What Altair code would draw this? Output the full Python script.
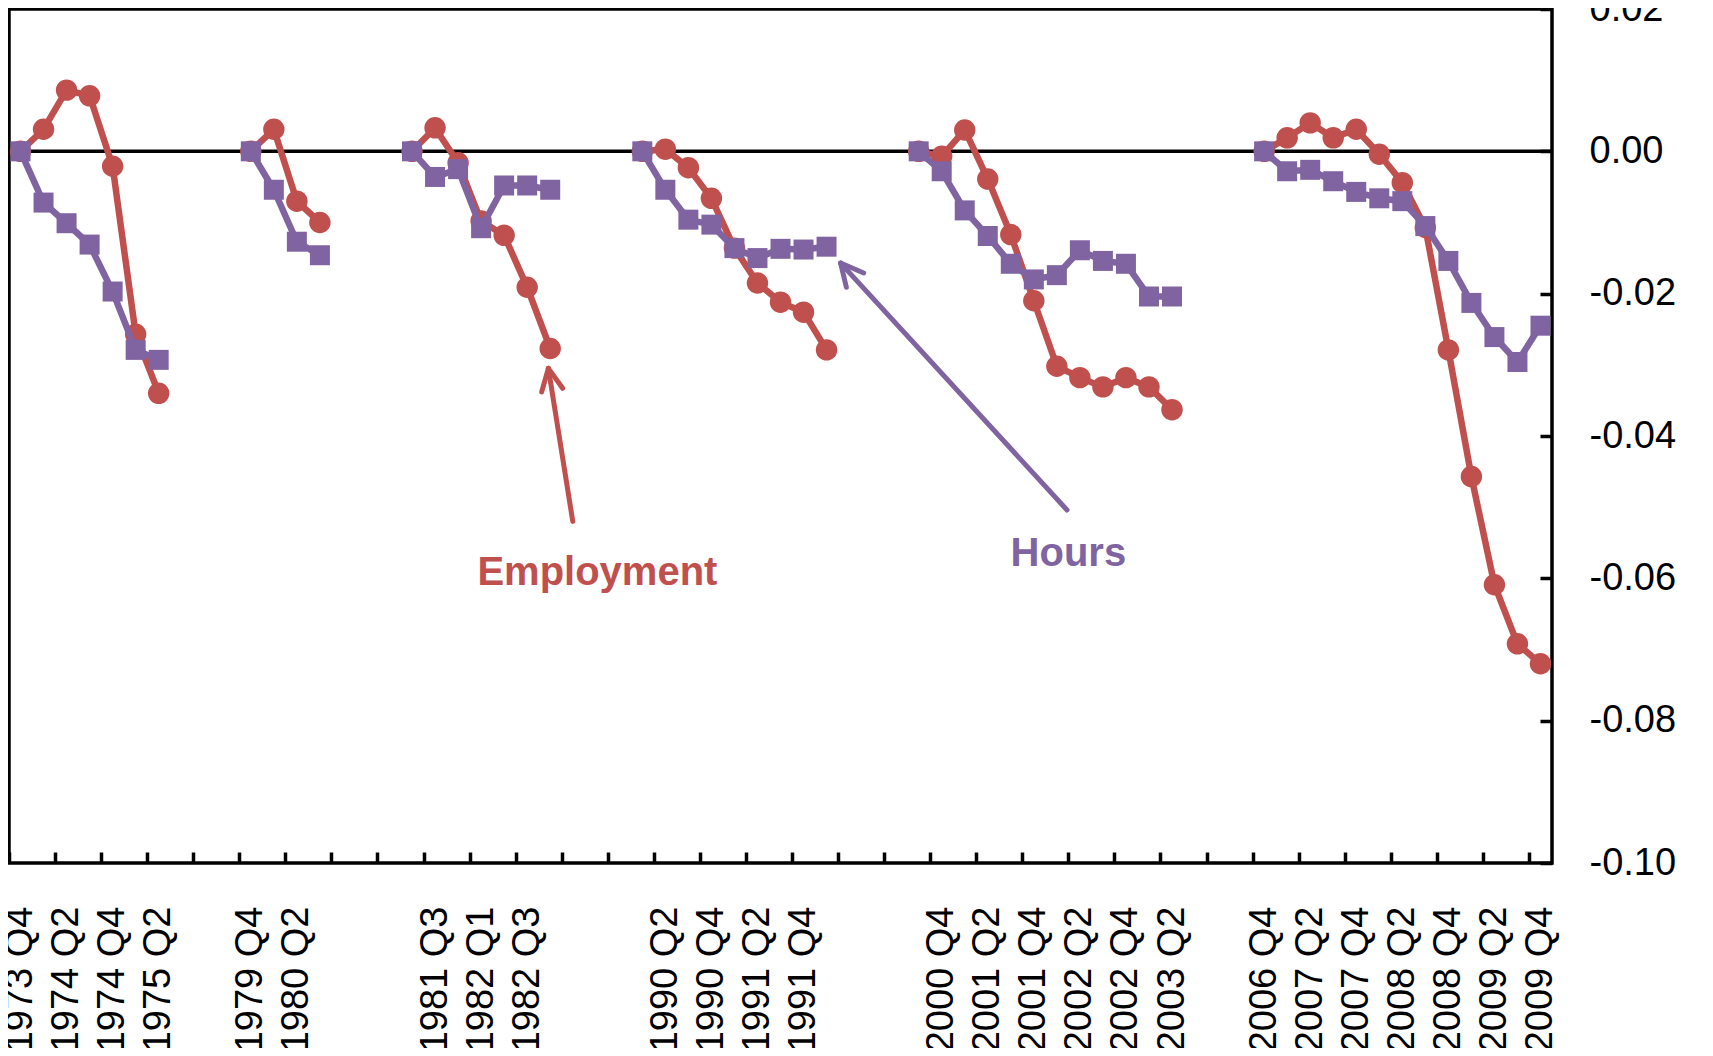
import altair as alt
import pandas as pd

RED = "#C0504D"
PURPLE = "#8064A2"
FONT = "Liberation Sans"

# ---- data: quarters, employment and hours (change since peak) per episode ----
q_1973 = ["1973 Q4", "1974 Q1", "1974 Q2", "1974 Q3", "1974 Q4", "1975 Q1", "1975 Q2"]
emp_1973 = [0.0, 0.0031, 0.0086, 0.0078, -0.0021, -0.0257, -0.0340]
hrs_1973 = [0.0, -0.0072, -0.0101, -0.0131, -0.0197, -0.0279, -0.0293]

q_1980 = ["1979 Q4", "1980 Q1", "1980 Q2", "1980 Q3"]
emp_1980 = [0.0, 0.0031, -0.0070, -0.0100]
hrs_1980 = [0.0, -0.0054, -0.0127, -0.0146]

q_1981 = ["1981 Q2", "1981 Q3", "1981 Q4", "1982 Q1", "1982 Q2", "1982 Q3", "1982 Q4"]
emp_1981 = [0.0, 0.0033, -0.0016, -0.0098, -0.0118, -0.0191, -0.0277]
hrs_1981 = [0.0, -0.0036, -0.0025, -0.0108, -0.0048, -0.0048, -0.0054]

q_1990 = ["1990 Q1", "1990 Q2", "1990 Q3", "1990 Q4", "1991 Q1", "1991 Q2",
          "1991 Q3", "1991 Q4", "1992 Q1"]
emp_1990 = [0.0, 0.0003, -0.0023, -0.0066, -0.0136, -0.0185, -0.0212, -0.0226, -0.0279]
hrs_1990 = [0.0, -0.0054, -0.0096, -0.0103, -0.0136, -0.0150, -0.0137, -0.0138, -0.0134]

q_2000 = ["2000 Q3", "2000 Q4", "2001 Q1", "2001 Q2", "2001 Q3", "2001 Q4",
          "2002 Q1", "2002 Q2", "2002 Q3", "2002 Q4", "2003 Q1", "2003 Q2"]
emp_2000 = [0.0, -0.0007, 0.0030, -0.0039, -0.0117, -0.0210, -0.0302, -0.0318,
            -0.0331, -0.0318, -0.0331, -0.0363]
hrs_2000 = [0.0, -0.0028, -0.0083, -0.0119, -0.0158, -0.0180, -0.0174, -0.0139,
            -0.0154, -0.0158, -0.0204, -0.0204]

q_2006 = ["2006 Q4", "2007 Q1", "2007 Q2", "2007 Q3", "2007 Q4", "2008 Q1", "2008 Q2",
          "2008 Q3", "2008 Q4", "2009 Q1", "2009 Q2", "2009 Q3", "2009 Q4"]
emp_2006 = [0.0, 0.0019, 0.0040, 0.0019, 0.0031, -0.0004, -0.0044, -0.0107,
            -0.0279, -0.0457, -0.0609, -0.0692, -0.0720]
hrs_2006 = [0.0, -0.0028, -0.0026, -0.0042, -0.0057, -0.0066, -0.0070, -0.0105,
            -0.0154, -0.0213, -0.0261, -0.0296, -0.0245]

GAP = 3  # blank quarters between episodes

y_ticks = [-0.10, -0.08, -0.06, -0.04, -0.02, 0.00, 0.02]

ann_text = ["Employment", "Hours"]
ann_idx = [25.05, 45.5]
ann_val = [-0.0610, -0.0582]
ann_col = [RED, PURPLE]

# arrows: (x1, y1, x2, y2) in category index / value units
arrow_x1 = [23.98, 22.92, 22.92, 45.44, 35.61, 35.61]
arrow_y1 = [-0.0520, -0.0305, -0.0305, -0.0504, -0.0157, -0.0157]
arrow_x2 = [22.92, 22.63, 23.54, 35.61, 35.86, 36.61]
arrow_y2 = [-0.0305, -0.0338, -0.0333, -0.0157, -0.0191, -0.0171]
arrow_col = [RED, RED, RED, PURPLE, PURPLE, PURPLE]

# ---- build tables ----
episodes = [(q_1973, emp_1973, hrs_1973), (q_1980, emp_1980, hrs_1980),
            (q_1981, emp_1981, hrs_1981), (q_1990, emp_1990, hrs_1990),
            (q_2000, emp_2000, hrs_2000), (q_2006, emp_2006, hrs_2006)]

rows = []
labels = []
i = 0
for n, (qs, emp, hrs) in enumerate(episodes):
    if n > 0:
        labels += [""] * GAP
        i += GAP
    for q, e, h in zip(qs, emp, hrs):
        rows.append({"idx": i, "val": e, "series": "Employment", "ep": n})
        rows.append({"idx": i, "val": h, "series": "Hours", "ep": n})
        labels.append(q)
        i += 1
N = len(labels)
df = pd.DataFrame(rows)
emp_df = df[df.series == "Employment"]
hrs_df = df[df.series == "Hours"]

shown = [labels[k] if k % 2 == 0 else "" for k in range(N)]
label_expr = "[" + ",".join("'" + s + "'" for s in shown) + "][datum.value + 0.5]"
tick_vals = [k - 0.5 for k in range(0, N, 2)]

W, H = 1543, 854
half_band = W / N / 2

xaxis = alt.Axis(orient="bottom", values=tick_vals, labelExpr=label_expr,
                 labelAngle=270, labelAlign="right", labelBaseline="middle",
                 labelOffset=half_band, labelPadding=43, labelFontSize=38,
                 labelFont=FONT, labelColor="black", labelOverlap=False,
                 labelFlush=False, ticks=True, tickSize=11, tickWidth=3.5,
                 tickColor="black", offset=-11, domain=False, grid=False, title=None)
yaxis = alt.Axis(orient="right", values=y_ticks,
                 labelExpr="replace(format(datum.value, '.2f'), '\u2212', '-')",
                 labelAlign="left", labelBaseline="middle", labelPadding=37,
                 labelFontSize=38, labelFont=FONT, labelColor="black",
                 ticks=True, tickSize=12, tickWidth=3.5, tickColor="black",
                 offset=-12, domain=False, grid=False, title=None)

xs = alt.Scale(domain=[-0.5, N - 0.5], nice=False, zero=False)
ys = alt.Scale(domain=[-0.10, 0.02], nice=False, zero=False)
X = alt.X("idx:Q", scale=xs, axis=xaxis)
Y = alt.Y("val:Q", scale=ys, axis=yaxis)

zero = alt.Chart(pd.DataFrame({"val": [0.0]})).mark_rule(
    color="black", strokeWidth=3.5).encode(y=Y)

line_e = alt.Chart(emp_df).mark_line(color=RED, strokeWidth=6.5).encode(
    x=X, y=Y, detail="ep:N", order="idx:Q")
pts_e = alt.Chart(emp_df).mark_point(shape="circle", filled=True, size=460,
                                     color=RED, opacity=1).encode(x=X, y=Y)
line_h = alt.Chart(hrs_df).mark_line(color=PURPLE, strokeWidth=6.5).encode(
    x=X, y=Y, detail="ep:N", order="idx:Q")
pts_h = alt.Chart(hrs_df).mark_point(shape="square", filled=True, size=400,
                                     color=PURPLE, opacity=1).encode(x=X, y=Y)

arr_df = pd.DataFrame({"idx": arrow_x1, "val": arrow_y1, "idx2": arrow_x2,
                       "val2": arrow_y2, "col": arrow_col})
arrows = alt.Chart(arr_df).mark_rule(strokeWidth=5, strokeCap="round").encode(
    x=X, y=Y, x2="idx2:Q", y2="val2:Q", color=alt.Color("col:N", scale=None))

txt_df = pd.DataFrame({"idx": ann_idx, "val": ann_val, "t": ann_text, "col": ann_col})
texts = alt.Chart(txt_df).mark_text(font=FONT, fontWeight="bold", fontSize=40,
                                    align="center", baseline="alphabetic").encode(
    x=X, y=Y, text="t:N", color=alt.Color("col:N", scale=None))

chart = alt.layer(zero, line_e, pts_e, line_h, pts_h, arrows, texts).properties(
    width=W, height=H,
    autosize=alt.AutoSizeParams(type="none"),
    padding={"left": 1, "top": 1, "right": 140, "bottom": 185},
).configure(background="white").configure_view(stroke="black", strokeWidth=3.5)

chart.save("out.html", embed_options={"renderer": "svg", "actions": False})
